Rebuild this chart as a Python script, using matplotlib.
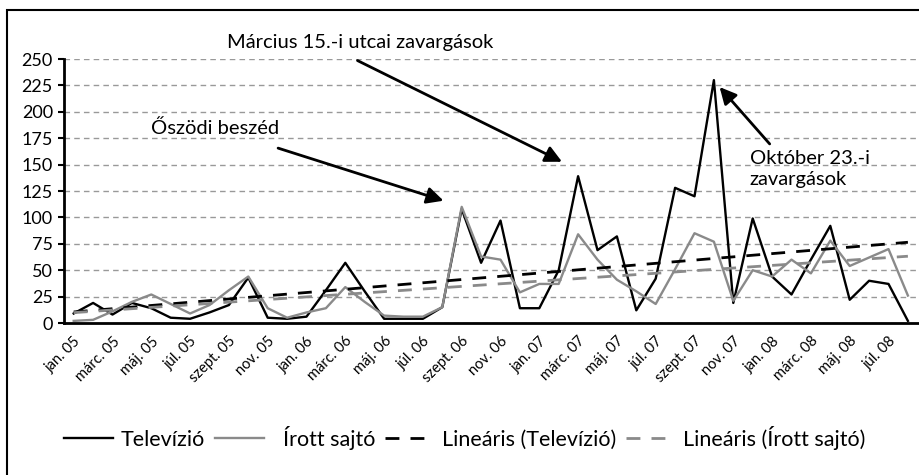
import numpy as np
import matplotlib
matplotlib.use("Agg")
import matplotlib.pyplot as plt
from matplotlib.patches import Rectangle

plt.rcParams['font.family'] = ['Lato', 'DejaVu Sans']

# havi adatok: 2005 jan. - 2008 aug.
honapok = ['jan.', 'febr.', 'márc.', 'ápr.', 'máj.', 'jún.', 'júl.', 'aug.',
           'szept.', 'okt.', 'nov.', 'dec.']
evek = ['05', '06', '07', '08']
cimkek = [f"{h} {e}" for e in evek for h in honapok][:44]

televizio = [9, 19, 8, 19, 14, 5, 4, 10, 17, 43, 5, 4,
             6, 31, 57, 30, 4, 4, 4, 15, 108, 57, 97, 14,
             14, 50, 139, 69, 82, 12, 42, 128, 120, 230, 19, 99,
             44, 27, 60, 92, 22, 40, 37, 2]
irott_sajto = [2, 3, 11, 20, 27, 18, 9, 17, 31, 44, 14, 5,
               10, 14, 34, 20, 7, 6, 6, 15, 110, 63, 60, 29,
               37, 37, 84, 60, 41, 30, 18, 51, 85, 77, 21, 50,
               44, 60, 47, 78, 54, 62, 70, 26]

x = np.arange(len(televizio))

# lineáris trendvonalak (mint az Excelben)
tv_fit = np.polyval(np.polyfit(x, televizio, 1), x)
sajto_fit = np.polyval(np.polyfit(x, irott_sajto, 1), x)

fig = plt.figure(figsize=(9.19, 4.75), dpi=100)
ax = fig.add_axes([64 / 919, 152 / 475, 853.6 / 919, 264 / 475])

szurke = '#8a8a8a'
ax.plot(x, televizio, color='black', lw=1.7, label='Televízió')
ax.plot(x, irott_sajto, color=szurke, lw=1.7, label='  Írott sajtó')
ax.plot(x, tv_fit, color='black', lw=2, dashes=(5, 4), label='Lineáris (Televízió)')
ax.plot(x, sajto_fit, color=szurke, lw=2, dashes=(5, 4), label='Lineáris (Írott sajtó)')

ax.set_xlim(-0.5, len(x) - 0.5)
ax.set_ylim(0, 250)
ax.set_yticks(range(0, 251, 25))
ax.yaxis.grid(True, color='#999999', linestyle=(0, (4, 3)), lw=1)
ax.set_axisbelow(True)

ax.set_xticks(x[::2])
ax.set_xticklabels(cimkek[::2], rotation=45, ha='right', rotation_mode='anchor',
                   fontsize=10.5)
ax.tick_params(axis='x', length=0, pad=8)
ax.tick_params(axis='y', length=4, width=1.5, labelsize=13, pad=4)

for s in ['top', 'right']:
    ax.spines[s].set_visible(False)
ax.spines['left'].set_linewidth(2)
ax.spines['bottom'].set_linewidth(2)

# annotációk
nyil = dict(arrowstyle='-|>', color='black', lw=2, mutation_scale=25)
ax.annotate('', xy=(25.3, 151.5), xytext=(14.5, 249.7),
            arrowprops=nyil, annotation_clip=False)
ax.text(7.9, 266, 'Március 15.-i utcai zavargások', fontsize=14.5, va='center',
        clip_on=False)
ax.annotate('', xy=(19.2, 115), xytext=(10.4, 166.4), arrowprops=nyil)
ax.text(4.0, 184.7, 'Őszödi beszéd', fontsize=14.5, va='center')
ax.annotate('', xy=(33.2, 225.4), xytext=(35.97, 167.6), arrowprops=nyil)
ax.text(34.85, 146, 'Október 23.-i\nzavargások', fontsize=14.5, va='center',
        linespacing=1.3)

fig.legend(loc='center', bbox_to_anchor=(464.5 / 919, 1 - 438 / 475), ncol=4,
           frameon=False, fontsize=15.5, handlelength=2.3, handletextpad=0.35,
           columnspacing=0.45)

# keret (jobb és alsó oldala kilóg a képből)
fig.patches.append(Rectangle((6.5 / 919, -10 / 475), 930 / 919, 475 / 475,
                             transform=fig.transFigure, fill=False,
                             edgecolor='black', lw=1.5))

fig.savefig('out.png', dpi=100)
